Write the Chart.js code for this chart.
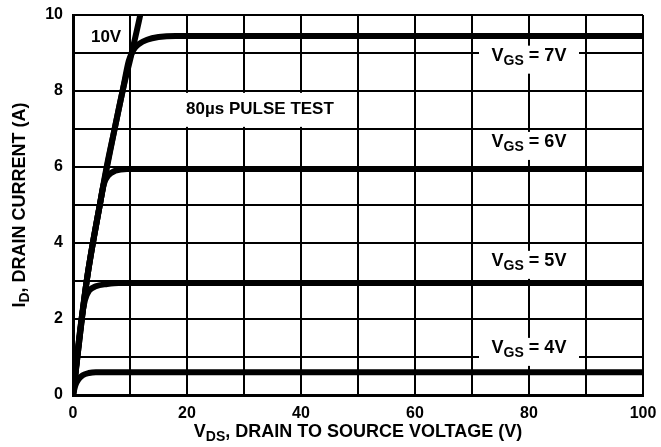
<!DOCTYPE html>
<html>
<head>
	<meta charset="utf-8">
	<title>Drain current vs drain to source voltage</title>
	<style>
		html, body { margin: 0; padding: 0; background: #fff; }
		#wrap { width: 661px; height: 447px; }
	</style>
</head>
<body>
<div id="wrap"><canvas id="graph"></canvas></div>
<script src="https://cdn.jsdelivr.net/npm/chart.js@4.4.0/dist/chart.umd.min.js"></script>
<script>
	// curve data (VDS in V, ID in A)
	const vds10 = [0, 0.7, 1.5, 2.4, 3.5, 4.7, 5.9, 7.3, 8.7, 10.3, 11.8, 12.2];
	const id10 = [0, 1, 2, 3, 4, 5, 6, 7, 8, 9, 10, 10.3];

	const vds7 = [0, 2.4, 4.7, 7.3, 8.7, 9.8, 10.6, 11.6, 13, 15, 18, 100];
	const id7 = [0, 3, 5, 7, 8, 8.8, 9.08, 9.24, 9.35, 9.42, 9.45, 9.45];

	const vds6 = [0, 2.4, 4.7, 5.4, 6.2, 7.4, 9.5, 100];
	const id6 = [0, 3, 5, 5.55, 5.78, 5.9, 5.95, 5.95];

	const vds5 = [0, 1.5, 2.1, 2.8, 4, 6, 8, 100];
	const id5 = [0, 2, 2.5, 2.74, 2.86, 2.92, 2.95, 2.95];

	const vds4 = [0, 0.4, 1, 1.7, 2.8, 4, 100];
	const id4 = [0, 0.25, 0.42, 0.52, 0.58, 0.6, 0.6];

	const xTickLabels = [0, 20, 40, 60, 80, 100];
	const yTickLabels = [0, 2, 4, 6, 8, 10];

	// curve labels: [main, subscript, rest]
	const curveLabels = [
		{ parts: ['V', 'GS', ' = 7V'], x: 80, y: 8.93 },
		{ parts: ['V', 'GS', ' = 6V'], x: 80, y: 6.66 },
		{ parts: ['V', 'GS', ' = 5V'], x: 80, y: 3.53 },
		{ parts: ['V', 'GS', ' = 4V'], x: 80, y: 1.24 }
	];
	const plainLabels = [
		{ text: '10V', x: 5.8, y: 9.41, box: false },
		{ text: '80\u00b5s PULSE TEST', x: 32.8, y: 7.53, box: true }
	];

	const FONT = '"Liberation Sans", Arial, Helvetica, sans-serif';

	function pts(xs, ys) {
		return xs.map((x, i) => ({ x: x, y: ys[i] }));
	}

	function curve(label, xs, ys) {
		return {
			label: label,
			data: pts(xs, ys),
			borderColor: '#000',
			borderWidth: 6,
			pointRadius: 0,
			fill: false,
			cubicInterpolationMode: 'monotone',
			clip: 0
		};
	}

	function drawSubText(ctx, parts, cx, cy, size) {
		const main = 'bold ' + size + 'px ' + FONT;
		const sub = 'bold ' + Math.round(size * 0.78) + 'px ' + FONT;
		ctx.font = main;
		const w0 = ctx.measureText(parts[0]).width;
		const w2 = ctx.measureText(parts[2]).width;
		ctx.font = sub;
		const w1 = ctx.measureText(parts[1]).width;
		const total = w0 + w1 + w2;
		let x = cx - total / 2;
		ctx.textBaseline = 'middle';
		ctx.textAlign = 'left';
		ctx.font = main;
		ctx.fillText(parts[0], x, cy);
		x += w0;
		ctx.font = sub;
		ctx.fillText(parts[1], x, cy + size * 0.3);
		x += w1;
		ctx.font = main;
		ctx.fillText(parts[2], x, cy);
		return total;
	}

	function noOverhang(scale) {
		scale.paddingLeft = 0;
		scale.paddingRight = 0;
		scale.paddingTop = 0;
		scale.paddingBottom = 0;
	}

	const labelsPlugin = {
		id: 'datasheetLabels',
		afterDatasetsDraw(chart) {
			const ctx = chart.ctx;
			const xs = chart.scales.x;
			const ys = chart.scales.y;
			ctx.save();
			ctx.fillStyle = '#000';

			curveLabels.forEach(l => {
				const cx = xs.getPixelForValue(l.x);
				const cy = ys.getPixelForValue(l.y);
				ctx.fillStyle = '#fff';
				ctx.fillRect(cx - 50, cy - 10, 100, 28);
				ctx.fillStyle = '#000';
				drawSubText(ctx, l.parts, cx, cy, 18);
			});

			plainLabels.forEach(l => {
				const cx = xs.getPixelForValue(l.x);
				const cy = ys.getPixelForValue(l.y);
				ctx.font = 'bold 17px ' + FONT;
				const w = ctx.measureText(l.text).width;
				if (l.box) {
					ctx.fillStyle = '#fff';
					ctx.fillRect(cx - w / 2 - 6, cy - 16, w + 12, 34);
				}
				ctx.fillStyle = '#000';
				ctx.textAlign = 'center';
				ctx.textBaseline = 'middle';
				ctx.fillText(l.text, cx, cy);
			});

			// axis titles with subscripts
			const area = chart.chartArea;
			drawSubText(ctx, ['V', 'DS', ', DRAIN TO SOURCE VOLTAGE (V)'], (area.left + area.right) / 2, 432, 18);
			ctx.translate(20, (area.top + area.bottom) / 2);
			ctx.rotate(-Math.PI / 2);
			drawSubText(ctx, ['I', 'D', ', DRAIN CURRENT (A)'], 0, 0, 18);
			ctx.restore();
		}
	};

	(function() {
		const ctx = document.getElementById('graph').getContext('2d');

		new Chart(ctx, {
			type: 'line',
			data: {
				datasets: [
					curve('10V', vds10, id10),
					curve('VGS = 7V', vds7, id7),
					curve('VGS = 6V', vds6, id6),
					curve('VGS = 5V', vds5, id5),
					curve('VGS = 4V', vds4, id4)
				]
			},
			options: {
				responsive: true,
				maintainAspectRatio: false,
				animation: false,
				layout: {
					padding: { left: 0, top: 15, right: 18, bottom: 0 }
				},
				plugins: {
					legend: { display: false },
					tooltip: { enabled: false }
				},
				scales: {
					x: {
						type: 'linear',
						min: 0,
						max: 100,
						afterFit: scale => { scale.height = 52; noOverhang(scale); },
						grid: { color: '#000', lineWidth: 2, drawTicks: false },
						border: { color: '#000', width: 3 },
						ticks: {
							stepSize: 10,
							padding: 9,
							color: '#000',
							font: { family: FONT, size: 16, weight: 'bold' },
							callback: v => xTickLabels.includes(v) ? String(v) : ''
						}
					},
					y: {
						type: 'linear',
						min: 0,
						max: 10,
						afterFit: scale => { scale.width = 73; noOverhang(scale); },
						grid: { color: '#000', lineWidth: 2, drawTicks: false },
						border: { color: '#000', width: 3 },
						ticks: {
							stepSize: 1,
							padding: 10,
							color: '#000',
							font: { family: FONT, size: 16, weight: 'bold' },
							callback: v => yTickLabels.includes(v) ? String(v) : ''
						}
					}
				}
			},
			plugins: [labelsPlugin]
		});
	})();
</script>
</body>
</html>
